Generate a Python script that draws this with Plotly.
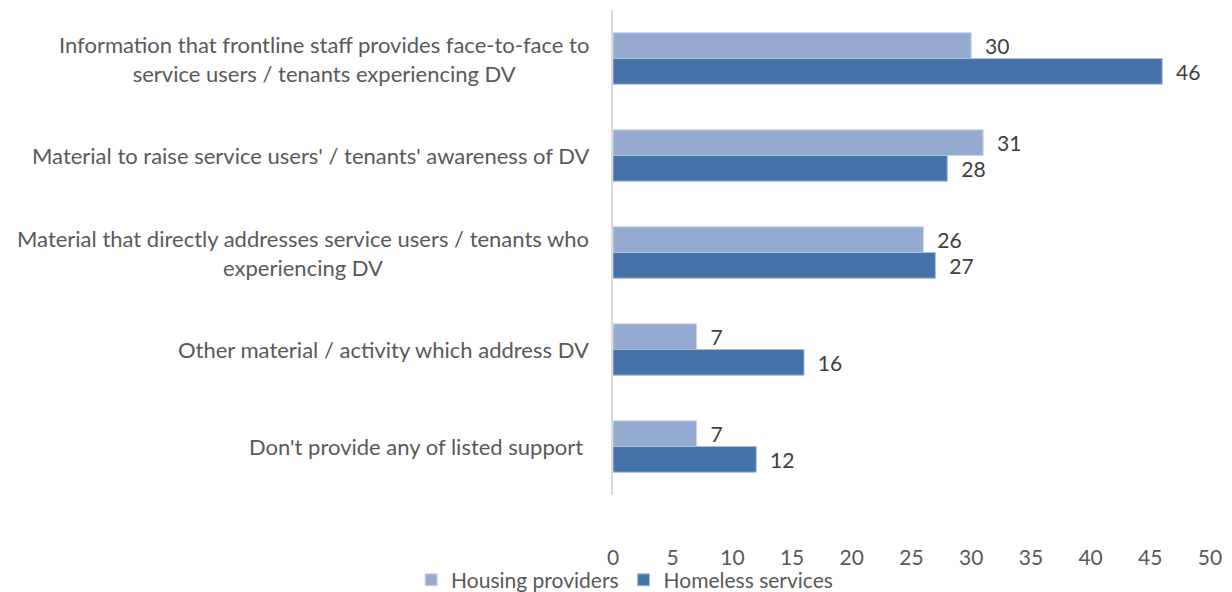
import plotly.graph_objects as go

categories = [
    "Information that frontline staff provides face-to-face to<br>service users / tenants experiencing DV",
    "Material to raise service users' / tenants' awareness of DV",
    "Material that directly addresses service users / tenants who<br>experiencing DV",
    "Other material / activity which address DV",
    "Don't provide any of listed support ",
]
cat_keys = ["c1", "c2", "c3", "c4", "c5"]
housing = [30, 31, 26, 7, 7]
homeless = [46, 28, 27, 16, 12]
x_ticks = [0, 5, 10, 15, 20, 25, 30, 35, 40, 45, 50]

FONT = "Lato, 'Open Sans', sans-serif"
LIGHT = "#95AAD1"
DARK = "#4573A8"
GREY = "#595959"

fig = go.Figure()
fig.add_trace(go.Bar(
    name="Housing providers", y=cat_keys, x=housing, orientation="h",
    marker=dict(color=LIGHT, line=dict(color="#C9D5EA", width=1)),
    text=housing, texttemplate="  %{x}", textposition="outside",
    textfont=dict(family=FONT, size=23, color="#404040"), cliponaxis=False,
))
fig.add_trace(go.Bar(
    name="Homeless services", y=cat_keys, x=homeless, orientation="h",
    marker=dict(color=DARK, line=dict(color="#A9BEDD", width=1)),
    text=homeless, texttemplate="  %{x}", textposition="outside",
    textfont=dict(family=FONT, size=23, color="#404040"), cliponaxis=False,
))

# category labels as centred multi-line annotations left of the axis
for key, label in zip(cat_keys, categories):
    fig.add_annotation(
        x=0, xref="paper", y=key, yref="y", text=label, showarrow=False,
        xanchor="right", align="center", xshift=-22,
        font=dict(family=FONT, size=22, color=GREY),
    )

fig.update_layout(
    width=1232, height=592,
    margin=dict(l=613, r=22, t=10, b=97, autoexpand=False),
    paper_bgcolor="white", plot_bgcolor="white",
    barmode="group", bargap=0.47, bargroupgap=0,
    showlegend=True,
    legend=dict(
        orientation="h", xref="container", yref="container",
        x=0.507, xanchor="center", y=0.02, yanchor="middle",
        bgcolor="rgba(0,0,0,0)",
        font=dict(family=FONT, size=21, color=GREY), traceorder="normal",
        itemwidth=30,
    ),
    font=dict(family=FONT, size=21, color=GREY),
)
fig.update_xaxes(
    range=[0, 50], tickvals=x_ticks, showgrid=False, zeroline=False,
    showline=False, ticks="outside", ticklen=44, tickcolor="rgba(0,0,0,0)",
    tickfont=dict(family=FONT, size=21, color=GREY),
)
fig.update_yaxes(
    categoryorder="array", categoryarray=cat_keys, autorange="reversed",
    showticklabels=False, showgrid=False, zeroline=False,
    showline=True, linecolor="#D9D9D9", linewidth=2, ticks="",
)

fig.write_html("out.html")
